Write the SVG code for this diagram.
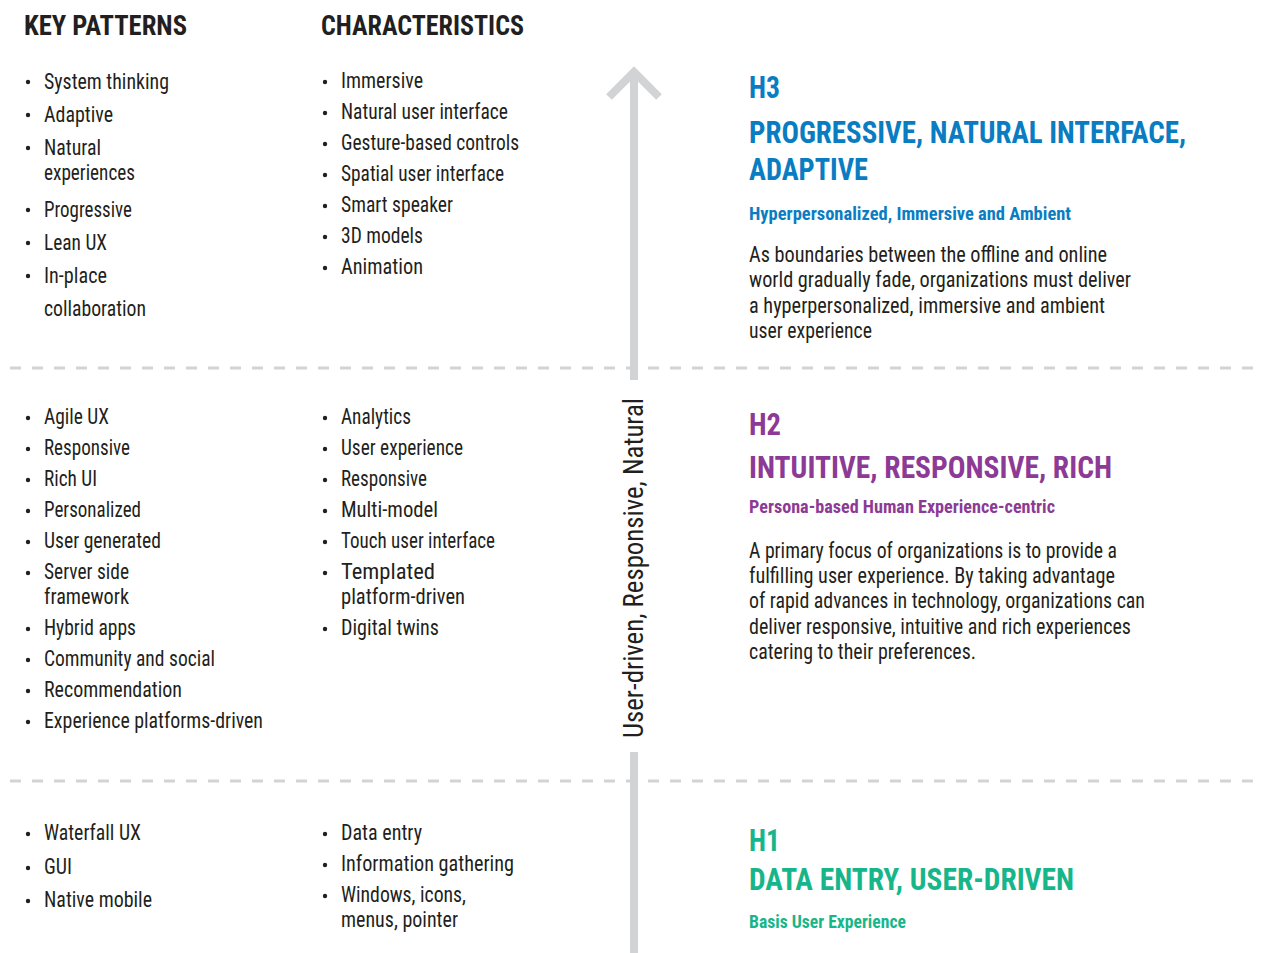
<svg xmlns="http://www.w3.org/2000/svg" width="1262" height="953" viewBox="0 0 1262 953">
<style>
text { font-family: "Liberation Sans Narrow", "Roboto Condensed", "DejaVu Sans Condensed", "Liberation Sans", sans-serif; fill: #231f20; }
.hd { font-size: 28px; font-weight: bold; }
.li { font-size: 21.5px; }
.p { font-size: 21.5px; }
.h { font-size: 32px; font-weight: bold; }
.sub { font-size: 19px; font-weight: bold; }
.blue { fill: #0a7dc2; }
.purple { fill: #8c3a95; }
.green { fill: #17b68a; }
.bul { fill: #231f20; }
.dash { stroke: #d1d3d4; stroke-width: 3; stroke-dasharray: 11 11; fill: none; }
.arr { stroke: #d1d3d4; stroke-width: 8; fill: none; }
.vt { font-size: 28px; }
</style>
<rect width="1262" height="953" fill="#ffffff"/>

<g id="dividers">
<line class="dash" x1="10" y1="368" x2="1262" y2="368"/>
<line class="dash" x1="10" y1="781" x2="1262" y2="781"/>
</g>

<g id="connectors">
<line class="arr" x1="634" y1="74" x2="634" y2="380"/>
<polyline class="arr" points="609,97 634,72 659,97" stroke-miterlimit="10"/>
<line class="arr" x1="634" y1="752" x2="634" y2="953"/>
<text class="vt" transform="translate(643,738) rotate(-90)" textLength="340" lengthAdjust="spacingAndGlyphs">User-driven, Responsive, Natural</text>
</g>

<g id="headers">
<text class="hd" x="24" y="35" textLength="163" lengthAdjust="spacingAndGlyphs">KEY PATTERNS</text>
<text class="hd" x="321" y="35" textLength="203" lengthAdjust="spacingAndGlyphs">CHARACTERISTICS</text>
</g>

<g id="h3-patterns">
<circle class="bul" cx="28" cy="82" r="2.2"/><text class="li" x="44" y="88.5" textLength="125" lengthAdjust="spacingAndGlyphs">System thinking</text>
<circle class="bul" cx="28" cy="115" r="2.2"/><text class="li" x="44" y="121.5" textLength="69" lengthAdjust="spacingAndGlyphs">Adaptive</text>
<circle class="bul" cx="28" cy="148" r="2.2"/><text class="li" x="44" y="154.5" textLength="57" lengthAdjust="spacingAndGlyphs">Natural</text>
<text class="li" x="44" y="179.5" textLength="91" lengthAdjust="spacingAndGlyphs">experiences</text>
<circle class="bul" cx="28" cy="210" r="2.2"/><text class="li" x="44" y="216.5" textLength="88" lengthAdjust="spacingAndGlyphs">Progressive</text>
<circle class="bul" cx="28" cy="243" r="2.2"/><text class="li" x="44" y="249.5" textLength="63" lengthAdjust="spacingAndGlyphs">Lean UX</text>
<circle class="bul" cx="28" cy="276" r="2.2"/><text class="li" x="44" y="282.5" textLength="63" lengthAdjust="spacingAndGlyphs">In-place</text>
<text class="li" x="44" y="315.5" textLength="102" lengthAdjust="spacingAndGlyphs">collaboration</text>
</g>

<g id="h3-characteristics">
<circle class="bul" cx="325" cy="82" r="2.2"/><text class="li" x="341" y="88" textLength="82" lengthAdjust="spacingAndGlyphs">Immersive</text>
<circle class="bul" cx="325" cy="113" r="2.2"/><text class="li" x="341" y="119" textLength="167" lengthAdjust="spacingAndGlyphs">Natural user interface</text>
<circle class="bul" cx="325" cy="144" r="2.2"/><text class="li" x="341" y="150" textLength="178" lengthAdjust="spacingAndGlyphs">Gesture-based controls</text>
<circle class="bul" cx="325" cy="175" r="2.2"/><text class="li" x="341" y="181" textLength="163" lengthAdjust="spacingAndGlyphs">Spatial user interface</text>
<circle class="bul" cx="325" cy="206" r="2.2"/><text class="li" x="341" y="212" textLength="112" lengthAdjust="spacingAndGlyphs">Smart speaker</text>
<circle class="bul" cx="325" cy="237" r="2.2"/><text class="li" x="341" y="243" textLength="82" lengthAdjust="spacingAndGlyphs">3D models</text>
<circle class="bul" cx="325" cy="268" r="2.2"/><text class="li" x="341" y="274" textLength="82" lengthAdjust="spacingAndGlyphs">Animation</text>
</g>

<g id="h3">
<text class="h blue" x="749" y="98" textLength="31" lengthAdjust="spacingAndGlyphs">H3</text>
<text class="h blue" x="749" y="142.5" textLength="437" lengthAdjust="spacingAndGlyphs">PROGRESSIVE, NATURAL INTERFACE,</text>
<text class="h blue" x="749" y="179.5" textLength="119" lengthAdjust="spacingAndGlyphs">ADAPTIVE</text>
<text class="sub blue" x="749" y="220" textLength="322" lengthAdjust="spacingAndGlyphs">Hyperpersonalized, Immersive and Ambient</text>
<text class="p" x="749" y="261.5" textLength="358" lengthAdjust="spacingAndGlyphs">As boundaries between the offline and online</text>
<text class="p" x="749" y="287" textLength="382" lengthAdjust="spacingAndGlyphs">world gradually fade, organizations must deliver</text>
<text class="p" x="749" y="312.5" textLength="356" lengthAdjust="spacingAndGlyphs">a hyperpersonalized, immersive and ambient</text>
<text class="p" x="749" y="337.5" textLength="123" lengthAdjust="spacingAndGlyphs">user experience</text>
</g>

<g id="h2-patterns">
<circle class="bul" cx="28" cy="418" r="2.2"/><text class="li" x="44" y="424" textLength="65" lengthAdjust="spacingAndGlyphs">Agile UX</text>
<circle class="bul" cx="28" cy="449" r="2.2"/><text class="li" x="44" y="455" textLength="86" lengthAdjust="spacingAndGlyphs">Responsive</text>
<circle class="bul" cx="28" cy="480" r="2.2"/><text class="li" x="44" y="486" textLength="53" lengthAdjust="spacingAndGlyphs">Rich UI</text>
<circle class="bul" cx="28" cy="511" r="2.2"/><text class="li" x="44" y="517" textLength="97" lengthAdjust="spacingAndGlyphs">Personalized</text>
<circle class="bul" cx="28" cy="542" r="2.2"/><text class="li" x="44" y="548" textLength="117" lengthAdjust="spacingAndGlyphs">User generated</text>
<circle class="bul" cx="28" cy="573" r="2.2"/><text class="li" x="44" y="579" textLength="85" lengthAdjust="spacingAndGlyphs">Server side</text>
<text class="li" x="44" y="604" textLength="85" lengthAdjust="spacingAndGlyphs">framework</text>
<circle class="bul" cx="28" cy="629" r="2.2"/><text class="li" x="44" y="635" textLength="92" lengthAdjust="spacingAndGlyphs">Hybrid apps</text>
<circle class="bul" cx="28" cy="660" r="2.2"/><text class="li" x="44" y="666" textLength="171" lengthAdjust="spacingAndGlyphs">Community and social</text>
<circle class="bul" cx="28" cy="691" r="2.2"/><text class="li" x="44" y="697" textLength="138" lengthAdjust="spacingAndGlyphs">Recommendation</text>
<circle class="bul" cx="28" cy="722" r="2.2"/><text class="li" x="44" y="728" textLength="219" lengthAdjust="spacingAndGlyphs">Experience platforms-driven</text>
</g>

<g id="h2-characteristics">
<circle class="bul" cx="325" cy="418" r="2.2"/><text class="li" x="341" y="424" textLength="70" lengthAdjust="spacingAndGlyphs">Analytics</text>
<circle class="bul" cx="325" cy="449" r="2.2"/><text class="li" x="341" y="455" textLength="122" lengthAdjust="spacingAndGlyphs">User experience</text>
<circle class="bul" cx="325" cy="480" r="2.2"/><text class="li" x="341" y="486" textLength="86" lengthAdjust="spacingAndGlyphs">Responsive</text>
<circle class="bul" cx="325" cy="511" r="2.2"/><text class="li" x="341" y="517" textLength="97" lengthAdjust="spacingAndGlyphs">Multi-model</text>
<circle class="bul" cx="325" cy="542" r="2.2"/><text class="li" x="341" y="548" textLength="154" lengthAdjust="spacingAndGlyphs">Touch user interface</text>
<circle class="bul" cx="325" cy="573" r="2.2"/><text class="li" x="341" y="579" textLength="94" lengthAdjust="spacingAndGlyphs">Templated</text>
<text class="li" x="341" y="604" textLength="124" lengthAdjust="spacingAndGlyphs">platform-driven</text>
<circle class="bul" cx="325" cy="629" r="2.2"/><text class="li" x="341" y="635" textLength="98" lengthAdjust="spacingAndGlyphs">Digital twins</text>
</g>

<g id="h2">
<text class="h purple" x="749" y="434.5" textLength="32" lengthAdjust="spacingAndGlyphs">H2</text>
<text class="h purple" x="749" y="478" textLength="363" lengthAdjust="spacingAndGlyphs">INTUITIVE, RESPONSIVE, RICH</text>
<text class="sub purple" x="749" y="513" textLength="306" lengthAdjust="spacingAndGlyphs">Persona-based Human Experience-centric</text>
<text class="p" x="749" y="557.5" textLength="368" lengthAdjust="spacingAndGlyphs">A primary focus of organizations is to provide a</text>
<text class="p" x="749" y="583" textLength="366" lengthAdjust="spacingAndGlyphs">fulfilling user experience. By taking advantage</text>
<text class="p" x="749" y="608" textLength="396" lengthAdjust="spacingAndGlyphs">of rapid advances in technology, organizations can</text>
<text class="p" x="749" y="633.5" textLength="382" lengthAdjust="spacingAndGlyphs">deliver responsive, intuitive and rich experiences</text>
<text class="p" x="749" y="659" textLength="227" lengthAdjust="spacingAndGlyphs">catering to their preferences.</text>
</g>

<g id="h1-patterns">
<circle class="bul" cx="28" cy="834" r="2.2"/><text class="li" x="44" y="840" textLength="97" lengthAdjust="spacingAndGlyphs">Waterfall UX</text>
<circle class="bul" cx="28" cy="868" r="2.2"/><text class="li" x="44" y="874" textLength="28" lengthAdjust="spacingAndGlyphs">GUI</text>
<circle class="bul" cx="28" cy="901" r="2.2"/><text class="li" x="44" y="907" textLength="108" lengthAdjust="spacingAndGlyphs">Native mobile</text>
</g>

<g id="h1-characteristics">
<circle class="bul" cx="325" cy="834" r="2.2"/><text class="li" x="341" y="840" textLength="81" lengthAdjust="spacingAndGlyphs">Data entry</text>
<circle class="bul" cx="325" cy="865" r="2.2"/><text class="li" x="341" y="871" textLength="173" lengthAdjust="spacingAndGlyphs">Information gathering</text>
<circle class="bul" cx="325" cy="896" r="2.2"/><text class="li" x="341" y="902" textLength="125" lengthAdjust="spacingAndGlyphs">Windows, icons,</text>
<text class="li" x="341" y="927" textLength="117" lengthAdjust="spacingAndGlyphs">menus, pointer</text>
</g>

<g id="h1">
<text class="h green" x="749" y="851" textLength="31" lengthAdjust="spacingAndGlyphs">H1</text>
<text class="h green" x="749" y="890" textLength="325" lengthAdjust="spacingAndGlyphs">DATA ENTRY, USER-DRIVEN</text>
<text class="sub green" x="749" y="928" textLength="157" lengthAdjust="spacingAndGlyphs">Basis User Experience</text>
</g>
</svg>
